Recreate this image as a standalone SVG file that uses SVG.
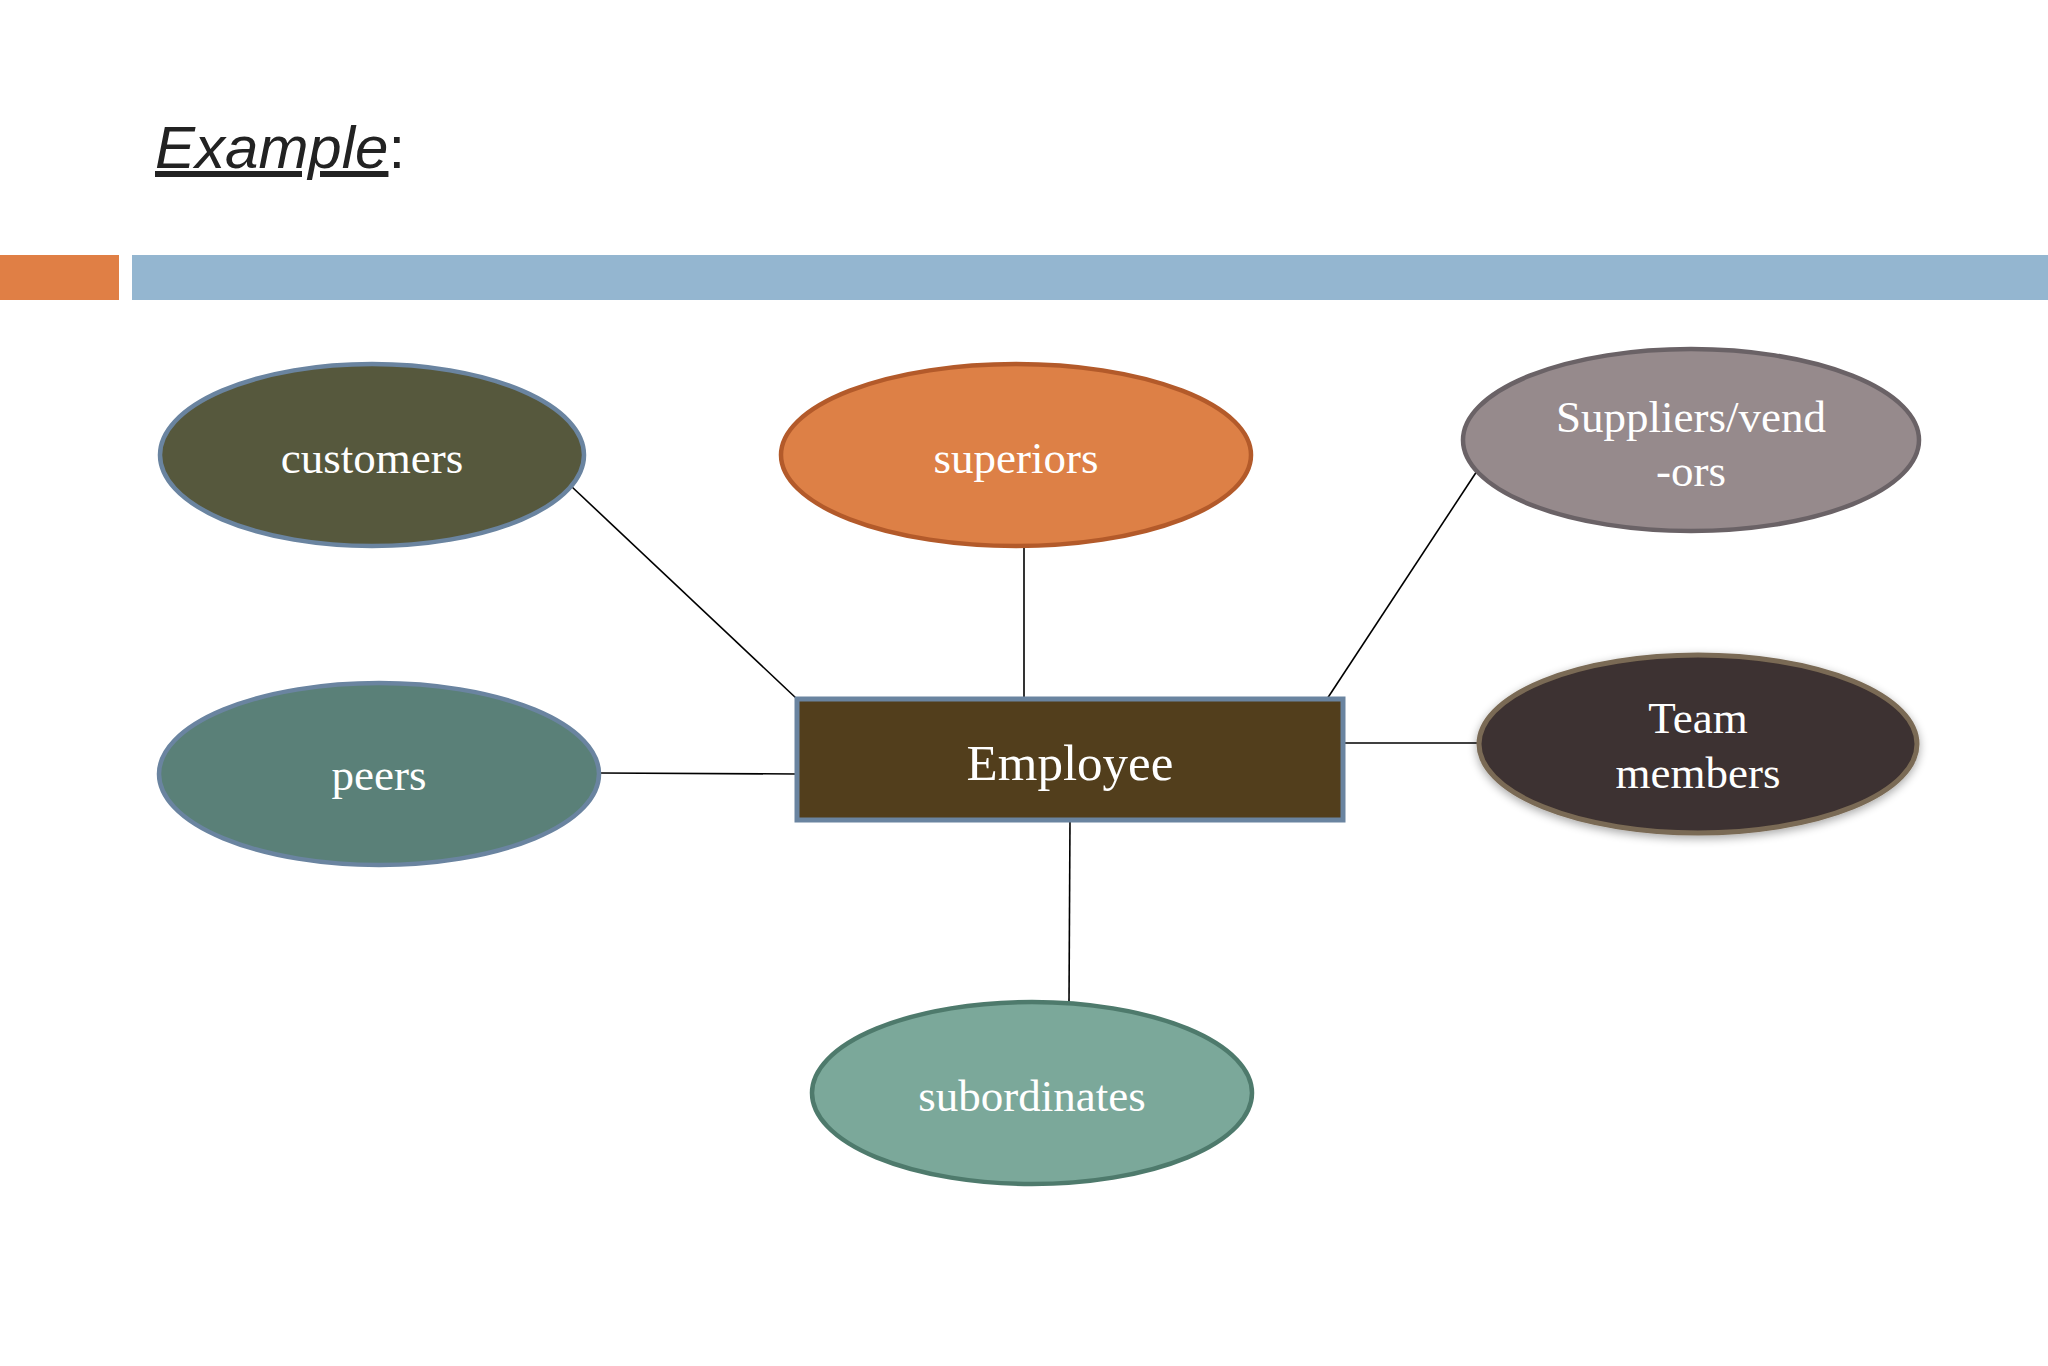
<svg xmlns="http://www.w3.org/2000/svg" width="2048" height="1366" viewBox="0 0 2048 1366">
<defs>
<style>
.lbl{font-family:"Liberation Serif","Times New Roman",serif;font-size:45px;fill:#ffffff;text-anchor:middle}
.big{font-size:51px}
.conn{stroke:#000000;stroke-width:1.6;fill:none}
.node{stroke-width:4.5}
</style>
<filter id="glow" x="-20%" y="-20%" width="140%" height="150%">
<feGaussianBlur in="SourceAlpha" stdDeviation="5"/>
<feOffset dy="3"/>
<feComponentTransfer><feFuncA type="linear" slope="0.35"/></feComponentTransfer>
<feMerge><feMergeNode/><feMergeNode in="SourceGraphic"/></feMerge>
</filter>
</defs>
<rect width="2048" height="1366" fill="#ffffff"/>
<g id="title">
<text x="155" y="168" font-family="'Liberation Sans',Arial,sans-serif" font-size="60" fill="#222222"><tspan font-style="italic" text-decoration="underline">Example</tspan>:</text>
</g>
<g id="bars">
<rect x="0" y="255" width="119" height="45" fill="#E07F45"/>
<rect x="132" y="255" width="1916" height="45" fill="#94B6D0"/>
</g>
<g id="connectors">
<line class="conn" x1="571" y1="486" x2="797" y2="699"/>
<line class="conn" x1="1024" y1="546" x2="1024" y2="699"/>
<line class="conn" x1="1477" y1="471" x2="1327" y2="699"/>
<line class="conn" x1="600" y1="773" x2="797" y2="774"/>
<line class="conn" x1="1343" y1="743" x2="1479" y2="743"/>
<line class="conn" x1="1070" y1="820" x2="1069" y2="1002"/>
</g>
<g id="customers">
<ellipse class="node" cx="372" cy="455" rx="212" ry="91" fill="#56583D" stroke="#6A84A0"/>
<text class="lbl" x="372" y="473">customers</text>
</g>
<g id="superiors">
<ellipse class="node" cx="1016" cy="455" rx="235" ry="91" fill="#DD8046" stroke="#B35A2A"/>
<text class="lbl" x="1016" y="473">superiors</text>
</g>
<g id="suppliers">
<ellipse class="node" cx="1691" cy="440" rx="228" ry="91" fill="#968A8C" stroke="#6A6266"/>
<text class="lbl" x="1691" y="432">Suppliers/vend</text>
<text class="lbl" x="1691" y="486">-ors</text>
</g>
<g id="peers">
<ellipse class="node" cx="379" cy="774" rx="220" ry="91" fill="#5A8078" stroke="#6A84A0"/>
<text class="lbl" x="379" y="790">peers</text>
</g>
<g id="employee">
<rect x="797" y="699" width="546" height="121" fill="#523E1C" stroke="#6A84A0" stroke-width="5"/>
<text class="lbl big" x="1070" y="780">Employee</text>
</g>
<g id="team">
<ellipse cx="1698" cy="744" rx="219" ry="89" fill="#3E3230" stroke="#7A6A55" stroke-width="5" filter="url(#glow)"/>
<text class="lbl" x="1698" y="733">Team</text>
<text class="lbl" x="1698" y="788">members</text>
</g>
<g id="subordinates">
<ellipse class="node" cx="1032" cy="1093" rx="220" ry="91" fill="#7BA89A" stroke="#4E7A6C"/>
<text class="lbl" x="1032" y="1111">subordinates</text>
</g>
</svg>
